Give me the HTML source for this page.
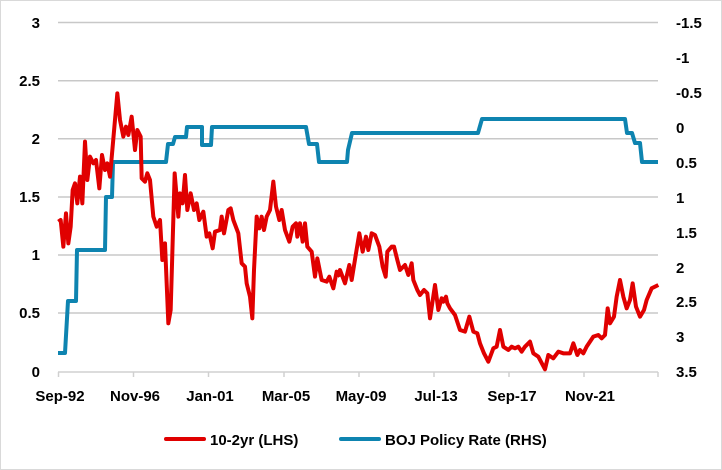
<!DOCTYPE html>
<html><head><meta charset="utf-8"><style>
html,body{margin:0;padding:0;background:#fff}
svg{display:block}
text{font-family:"Liberation Sans",sans-serif;font-weight:bold;font-size:15px;fill:#000}
</style></head><body>
<svg width="722" height="470" viewBox="0 0 722 470">
<rect x="0.5" y="0.5" width="721" height="469" fill="#fff" stroke="#d9d9d9"/>
<g stroke="#c8c8c8" stroke-width="1.5">
<line x1="58" x2="658" y1="22.5" y2="22.5"/>
<line x1="58" x2="658" y1="80.7" y2="80.7"/>
<line x1="58" x2="658" y1="138.8" y2="138.8"/>
<line x1="58" x2="658" y1="197" y2="197"/>
<line x1="58" x2="658" y1="255" y2="255"/>
<line x1="58" x2="658" y1="313" y2="313"/>
</g>
<g stroke="#d0d0d0" stroke-width="1.5">
<line x1="58" x2="658" y1="372" y2="372"/>
<line x1="58.5" x2="58.5" y1="372" y2="377"/>
<line x1="133.5" x2="133.5" y1="372" y2="377"/>
<line x1="208.5" x2="208.5" y1="372" y2="377"/>
<line x1="284" x2="284" y1="372" y2="377"/>
<line x1="359" x2="359" y1="372" y2="377"/>
<line x1="434" x2="434" y1="372" y2="377"/>
<line x1="509" x2="509" y1="372" y2="377"/>
<line x1="584" x2="584" y1="372" y2="377"/>
<line x1="658" x2="658" y1="372" y2="377"/>
</g>
<g text-anchor="end">
<text x="40" y="28">3</text><text x="40" y="86">2.5</text><text x="40" y="144">2</text>
<text x="40" y="202">1.5</text><text x="40" y="260">1</text><text x="40" y="318">0.5</text>
<text x="40" y="377">0</text>
</g>
<g>
<text x="676" y="28">-1.5</text><text x="676" y="63">-1</text><text x="676" y="98">-0.5</text>
<text x="676" y="133">0</text><text x="676" y="168">0.5</text><text x="676" y="203">1</text>
<text x="676" y="238">1.5</text><text x="676" y="273">2</text><text x="676" y="307">2.5</text>
<text x="676" y="342">3</text><text x="676" y="377">3.5</text>
</g>
<g text-anchor="middle">
<text x="60" y="401">Sep-92</text><text x="135" y="401">Nov-96</text><text x="210" y="401">Jan-01</text>
<text x="286" y="401">Mar-05</text><text x="361" y="401">May-09</text><text x="436" y="401">Jul-13</text>
<text x="512" y="401">Sep-17</text><text x="590" y="401">Nov-21</text>
</g>
<polyline fill="none" stroke="#0e84b0" stroke-width="4" stroke-linejoin="round" points="58,353 65,353 68,301 76,301 77,250 105,250 106,197 112,197 113,162 166,162 168,144 173,144 175,137 186,137 187,127 202,127 202,145 211,145 212,127 306,127 309,144 317,144 319,162 347,162 348,150 352,133 478,133 482,119 625,119 627,133 632,133 635,143 640,143 642,162 658,162"/>
<g transform="translate(40,80) scale(0.33333)">
<polyline fill="none" stroke="#e00000" stroke-width="12" stroke-linejoin="round" points="55,425 62,420 70,500 78,400 85,490 92,440 98,330 105,310 112,370 120,290 127,370 135,185 142,300 150,230 160,250 168,240 178,325 186,225 195,270 202,250 210,290 232,40 240,120 250,170 258,140 265,165 275,110 285,210 292,150 302,170 305,295 315,305 322,280 330,300 340,410 350,440 360,420 367,540 375,490 385,730 392,690 404,280 415,410 420,340 428,370 435,285 442,390 452,340 462,390 470,370 478,420 490,395 500,470 508,460 518,505 525,455 540,450 545,410 552,460 565,390 572,385 580,420 595,460 605,550 615,560 620,610 630,650 637,715 642,570 650,410 658,445 665,410 672,450 680,410 690,390 700,305 708,380 718,420 725,390 735,450 748,485 758,440 768,430 772,470 780,430 788,485 795,430 802,500 815,515 825,590 832,535 845,600 860,605 868,590 880,625 890,575 900,590"/>
</g>
<g transform="translate(340,80) scale(0.33333)">
<polyline fill="none" stroke="#e00000" stroke-width="12" stroke-linejoin="round" points="0,590 0,570 15,610 28,555 35,600 48,520 58,460 68,515 78,470 85,510 95,460 105,465 118,500 128,560 137,590 142,515 155,500 162,500 172,540 180,570 195,555 205,585 215,550 220,600 232,630 240,645 252,630 262,640 270,715 285,615 295,690 305,655 310,665 318,650 322,670 330,685 345,705 360,750 375,755 388,710 400,755 412,760 420,790 432,820 445,845 460,805 470,800 480,750 490,800 505,810 515,800 525,805 535,800 545,815 555,800 570,785 580,820 595,830 615,868 625,825 640,835 655,815 670,820 690,820 700,790 712,825 720,810 730,820 740,800 760,770 775,765 785,775 795,765 803,685 810,730 822,710 830,650 840,600 850,650 860,685 870,660 878,610 888,680 900,710 912,690 920,660 935,625 955,615"/>
</g>
<line x1="166" x2="204" y1="439" y2="439" stroke="#e00000" stroke-width="4" stroke-linecap="round"/>
<text x="210" y="445">10-2yr (LHS)</text>
<line x1="341" x2="379" y1="439" y2="439" stroke="#0e84b0" stroke-width="4" stroke-linecap="round"/>
<text x="385" y="445">BOJ Policy Rate (RHS)</text>
</svg>
</body></html>
